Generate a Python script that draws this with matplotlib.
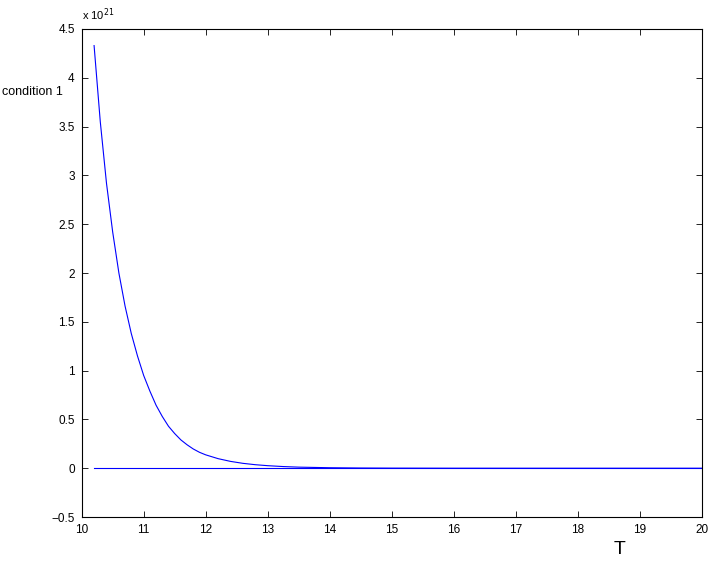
import matplotlib
matplotlib.use("Agg")
import matplotlib.pyplot as plt
from matplotlib.ticker import FuncFormatter

plt.rcParams["font.family"] = ["Liberation Sans", "DejaVu Sans"]

# values, in units of 1e21
scale = 1e21
t_curve = [10.2, 10.3, 10.4, 10.5, 10.6, 10.7, 10.8, 10.9, 11.0, 11.1,
           11.2, 11.3, 11.4, 11.5, 11.6, 11.7, 11.8, 11.9, 12.0, 12.2,
           12.4, 12.6, 12.8, 13.0, 13.25, 13.5, 14.0, 14.5, 15.0, 16.0,
           17.0, 18.0, 19.0, 20.0]
v_curve = [4.33, 3.55, 2.92, 2.42, 2.0, 1.66, 1.38, 1.15, 0.95, 0.79,
           0.645, 0.53, 0.43, 0.355, 0.29, 0.24, 0.197, 0.163, 0.137, 0.098,
           0.07, 0.05, 0.036, 0.026, 0.017, 0.011, 0.005, 0.0022, 0.001, 0.0002,
           0.0, 0.0, 0.0, 0.0]
t_zero = [10.2, 20.0]
v_zero = [0.0, 0.0]

fig = plt.figure(figsize=(7.14, 5.64), dpi=100)
ax = fig.add_axes([0.1144, 0.0833, 0.8684, 0.8653])

ax.plot(t_curve, [v * scale for v in v_curve], color="#0000ff", lw=0.8)
ax.plot(t_zero, [v * scale for v in v_zero], color="#0000ff", lw=0.8)

ax.set_xlim(10, 20)
ax.set_ylim(-0.5 * scale, 4.5 * scale)
ax.set_xticks(range(10, 21))
ax.set_yticks([k * 0.5 * scale for k in range(-1, 10)])
ax.yaxis.set_major_formatter(FuncFormatter(lambda y, p: ("%g" % (y / scale)).replace("-", "\u2212")))
ax.tick_params(direction="in", top=True, right=True, length=4.5, width=0.6, labelsize=8.5, pad=5)
for s in ax.spines.values():
    s.set_linewidth(0.8)

ax.text(0.0, 1.012, r"x 10$^{21}$", transform=ax.transAxes, fontsize=8, ha="left", va="bottom")
fig.text(2 / 714, 1 - 92 / 564, "condition 1", fontsize=9, ha="left", va="center")
fig.text(620 / 714, 1 - 550 / 564, "T", fontsize=14, ha="center", va="center")

fig.savefig("out.png", dpi=100)
